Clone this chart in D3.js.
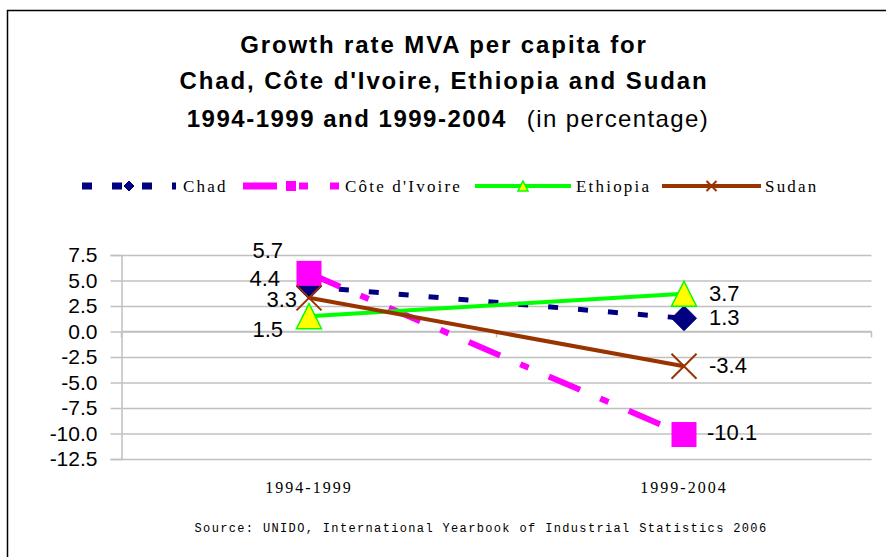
<!DOCTYPE html>
<html>
<head>
<meta charset="utf-8">
<script src="https://cdn.jsdelivr.net/npm/d3@7/dist/d3.min.js"></script>
<style>
  html, body { margin: 0; padding: 0; background: #fff; }
  svg { display: block; }
</style>
</head>
<body>
<svg id="chart" width="886" height="557"></svg>
<script>
// ---------------- DATA ----------------
const categories = ["1994-1999", "1999-2004"];
const seriesNames = ["Chad", "Côte d'Ivoire", "Ethiopia", "Sudan"];
const chadValues = [4.4, 1.3];
const coteIvoireValues = [5.7, -10.1];
const ethiopiaValues = [1.5, 3.7];
const sudanValues = [3.3, -3.4];
const yTickValues = [7.5, 5.0, 2.5, 0.0, -2.5, -5.0, -7.5, -10.0, -12.5];
const titleLines = ["Growth rate MVA per capita for", "Chad, Côte d'Ivoire, Ethiopia and Sudan"];
const titleLine3Bold = "1994-1999 and 1999-2004";
const titleLine3Normal = "(in percentage)";
const sourceText = "Source: UNIDO, International Yearbook of Industrial Statistics 2006";

// ---------------- STYLES ----------------
const styles = [
  { color: "#000080", width: 5, dash: "10,20", marker: "diamond", mfill: "#000080", mstroke: "#000080" },
  { color: "#FF00FF", width: 6, dash: "34,22,9,22", marker: "square", mfill: "#FF00FF", mstroke: "#FF00FF" },
  { color: "#00FF00", width: 4, dash: null, marker: "triangle", mfill: "#FFFF00", mstroke: "#00FF00" },
  { color: "#993300", width: 4, dash: null, marker: "x", mfill: "none", mstroke: "#993300" }
];
// label offsets relative to the point: [left point, right point]
const labelPlacement = [
  [{ dx: -29, dy: -1, anchor: "end" }, { dx: 25, dy: 7, anchor: "start" }],
  [{ dx: -26, dy: -15, anchor: "end" }, { dx: 23, dy: 5, anchor: "start" }],
  [{ dx: -26, dy: 21, anchor: "end" }, { dx: 25, dy: 7, anchor: "start" }],
  [{ dx: -12, dy: 9, anchor: "end" }, { dx: 25, dy: 7, anchor: "start" }]
];
const legendPos = [
  { x1: 82, x2: 176, tx: 183 },
  { x1: 243, x2: 339, tx: 345 },
  { x1: 475, x2: 571, tx: 576 },
  { x1: 662, x2: 761, tx: 765 }
];

const allValues = [chadValues, coteIvoireValues, ethiopiaValues, sudanValues];
const series = seriesNames.map((name, i) => ({
  name, style: styles[i], values: categories.map((c, j) => ({ cat: c, v: allValues[i][j] }))
}));

const svg = d3.select("#chart");

// frame
svg.append("path").attr("d", "M7.5,557 L7.5,10.5 L886,10.5")
  .attr("fill", "none").attr("stroke", "#000").attr("stroke-width", 1.5);

// ---------------- SCALES ----------------
const plotLeft = 121.5, plotRight = 871.5, plotTop = 255, plotBottom = 459;
const x = d3.scaleBand().domain(categories).range([plotLeft, plotRight]).paddingInner(0).paddingOuter(0);
const xc = c => x(c) + x.bandwidth() / 2;
const y = d3.scaleLinear().domain([-12.5, 7.5]).range([plotBottom, plotTop]);

// gridlines
const grid = svg.append("g").attr("transform", `translate(${plotLeft},0)`)
  .call(d3.axisLeft(y).tickValues(yTickValues).tickSize(-(plotRight - plotLeft)).tickFormat(""));
grid.select(".domain").remove();
grid.selectAll(".tick line").attr("stroke", "#c0c0c0").attr("stroke-width", 1.5);

// y axis
const yAxis = svg.append("g").attr("transform", `translate(${plotLeft},0)`)
  .call(d3.axisLeft(y).tickValues(yTickValues).tickSize(11).tickPadding(13).tickFormat(d => d.toFixed(1)));
yAxis.select(".domain").attr("stroke", "#c0c0c0").attr("stroke-width", 1.5);
yAxis.selectAll(".tick line").attr("stroke", "#c0c0c0").attr("stroke-width", 1.5);
yAxis.selectAll(".tick text").attr("font-family", "'Liberation Sans', Arial, sans-serif")
  .attr("font-size", 21).attr("fill", "#000");

// x axis line at zero with boundary ticks
const x0 = svg.append("g").attr("transform", `translate(0,${y(0)})`);
x0.append("line").attr("x1", plotLeft).attr("x2", plotRight).attr("stroke", "#c0c0c0").attr("stroke-width", 1.5);
const bounds = categories.map(c => x(c)).concat([x(categories[categories.length - 1]) + x.bandwidth()]);
x0.selectAll("line.b").data(bounds).join("line").attr("class", "b")
  .attr("x1", d => d).attr("x2", d => d).attr("y1", 0).attr("y2", 6)
  .attr("stroke", "#c0c0c0").attr("stroke-width", 1.5);

// category labels
const xAxis = svg.append("g").attr("transform", `translate(0,${plotBottom})`)
  .call(d3.axisBottom(x).tickSize(0).tickPadding(23));
xAxis.select(".domain").remove();
xAxis.selectAll(".tick text").attr("font-family", "'Liberation Serif', 'Times New Roman', serif")
  .attr("font-size", 16).attr("letter-spacing", 2).attr("fill", "#000");

// ---------------- MARKERS ----------------
function drawMarker(g, type, cx, cy, s, st) {
  const h = s / 2;
  if (type === "diamond") {
    g.append("path").attr("d", `M${cx},${cy - h} L${cx + h},${cy} L${cx},${cy + h} L${cx - h},${cy} Z`)
      .attr("fill", st.mfill).attr("stroke", st.mstroke).attr("stroke-width", 1);
  } else if (type === "square") {
    g.append("rect").attr("x", cx - h).attr("y", cy - h).attr("width", s).attr("height", s)
      .attr("fill", st.mfill);
  } else if (type === "triangle") {
    g.append("path").attr("d", `M${cx},${cy - h} L${cx + h},${cy + h} L${cx - h},${cy + h} Z`)
      .attr("fill", st.mfill).attr("stroke", st.mstroke).attr("stroke-width", 1.5);
  } else if (type === "x") {
    g.append("path").attr("d", `M${cx - h},${cy - h} L${cx + h},${cy + h} M${cx - h},${cy + h} L${cx + h},${cy - h}`)
      .attr("fill", "none").attr("stroke", st.mstroke).attr("stroke-width", 2);
  }
}

// ---------------- SERIES ----------------
const line = d3.line().x(d => xc(d.cat)).y(d => y(d.v));
series.forEach((s, i) => {
  const g = svg.append("g");
  g.append("path").datum(s.values).attr("d", line)
    .attr("fill", "none").attr("stroke", s.style.color).attr("stroke-width", s.style.width)
    .attr("stroke-dasharray", s.style.dash);
  s.values.forEach(d => drawMarker(g, s.style.marker, xc(d.cat), y(d.v), 25, s.style));
});

// data labels
series.forEach((s, i) => {
  s.values.forEach((d, j) => {
    const p = labelPlacement[i][j];
    svg.append("text").attr("x", xc(d.cat) + p.dx).attr("y", y(d.v) + p.dy)
      .attr("text-anchor", p.anchor)
      .attr("font-family", "'Liberation Sans', Arial, sans-serif").attr("font-size", 22).attr("fill", "#000")
      .text(d.v.toFixed(1));
  });
});

// ---------------- LEGEND ----------------
const legendY = 186;
series.forEach((s, i) => {
  const lp = legendPos[i];
  const g = svg.append("g");
  g.append("line").attr("x1", lp.x1).attr("x2", lp.x2).attr("y1", legendY).attr("y2", legendY)
    .attr("stroke", s.style.color).attr("stroke-width", s.style.dash ? 7 : 4)
    .attr("stroke-dasharray", s.style.dash);
  drawMarker(g, s.style.marker, (lp.x1 + lp.x2) / 2, legendY, 10, s.style);
  g.append("text").attr("x", lp.tx).attr("y", legendY + 6)
    .attr("font-family", "'Liberation Serif', 'Times New Roman', serif").attr("font-size", 17)
    .attr("letter-spacing", 2.2).attr("fill", "#000").text(s.name);
});

// ---------------- TITLE ----------------
const tf = "'Liberation Sans', Arial, sans-serif";
titleLines.forEach((t, i) => {
  svg.append("text").attr("x", 444).attr("y", 53 + i * 36).attr("text-anchor", "middle")
    .attr("font-family", tf).attr("font-size", 24).attr("font-weight", "bold")
    .attr("letter-spacing", 1.9).attr("fill", "#000").text(t);
});
const t3 = svg.append("text").attr("x", 448).attr("y", 127).attr("text-anchor", "middle")
  .attr("font-family", tf).attr("font-size", 24).attr("fill", "#000");
t3.append("tspan").attr("font-weight", "bold").attr("letter-spacing", 1.5).text(titleLine3Bold);
t3.append("tspan").attr("dx", 20).attr("letter-spacing", 1.4).text(titleLine3Normal);

// source
svg.append("text").attr("x", 481).attr("y", 532).attr("text-anchor", "middle")
  .attr("font-family", "'Liberation Mono', 'Courier New', monospace").attr("font-size", 12)
  .attr("letter-spacing", 1.35).attr("fill", "#000").text(sourceText);
</script>
</body>
</html>
